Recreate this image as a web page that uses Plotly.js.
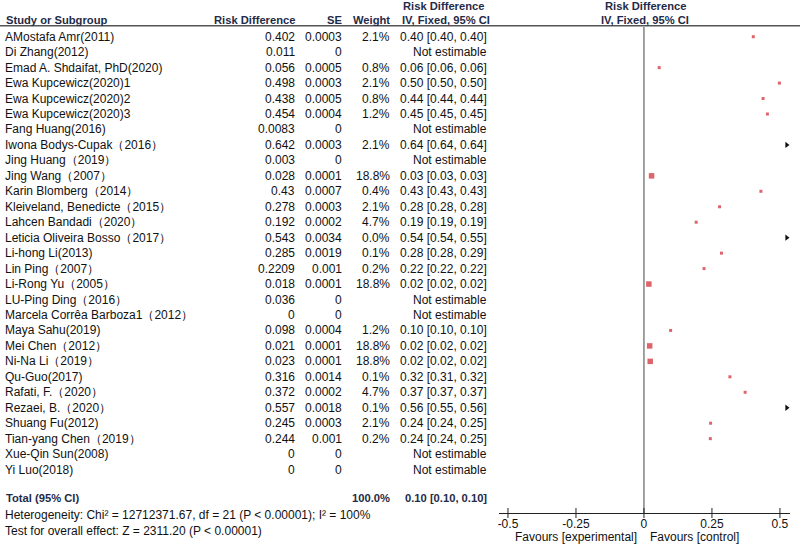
<!DOCTYPE html>
<html>
<head>
<meta charset="utf-8">
<script src="https://cdn.plot.ly/plotly-3.0.1.min.js"></script>
<style>html,body{margin:0;padding:0;background:#fff;}#chart{width:800px;height:545px;}</style>
</head>
<body>
<div id="chart"></div>
<script>
// ---- data ----
const studies = ["AMostafa Amr(2011)","Di Zhang(2012)","Emad A. Shdaifat, PhD(2020)","Ewa Kupcewicz(2020)1","Ewa Kupcewicz(2020)2","Ewa Kupcewicz(2020)3","Fang Huang(2016)","Iwona Bodys-Cupak\uff082016\uff09","Jing Huang\uff082019\uff09","Jing Wang\uff082007\uff09","Karin Blomberg\uff082014\uff09","Kleiveland, Benedicte\uff082015\uff09","Lahcen Bandadi\uff082020\uff09","Leticia Oliveira Bosso\uff082017\uff09","Li-hong Li(2013)","Lin Ping\uff082007\uff09","Li-Rong Yu\uff082005\uff09","LU-Ping Ding\uff082016\uff09","Marcela Corr\u00eaa Barboza1\uff082012\uff09","Maya Sahu(2019)","Mei Chen\uff082012\uff09","Ni-Na Li\uff082019\uff09","Qu-Guo(2017)","Rafati, F.\uff082020\uff09","Rezaei, B.\uff082020\uff09","Shuang Fu(2012)","Tian-yang Chen\uff082019\uff09","Xue-Qin Sun(2008)","Yi Luo(2018)"];
const riskDiff = [0.402,0.011,0.056,0.498,0.438,0.454,0.0083,0.642,0.003,0.028,0.43,0.278,0.192,0.543,0.285,0.2209,0.018,0.036,0,0.098,0.021,0.023,0.316,0.372,0.557,0.245,0.244,0,0];
const seVals = [0.0003,0,0.0005,0.0003,0.0005,0.0004,0,0.0003,0,0.0001,0.0007,0.0003,0.0002,0.0034,0.0019,0.001,0.0001,0,0,0.0004,0.0001,0.0001,0.0014,0.0002,0.0018,0.0003,0.001,0,0];
const weights = [2.1,null,0.8,2.1,0.8,1.2,null,2.1,null,18.8,0.4,2.1,4.7,0.0,0.1,0.2,18.8,null,null,1.2,18.8,18.8,0.1,4.7,0.1,2.1,0.2,null,null];
const totalWeight = "100.0%";
const totalEffect = 0.10, totalLower = 0.10, totalUpper = 0.10;
const heterogeneityText = "Heterogeneity: Chi\u00b2 = 12712371.67, df = 21 (P < 0.00001); I\u00b2 = 100%";
const overallText = "Test for overall effect: Z = 2311.20 (P < 0.00001)";
const tickValues = [-0.5,-0.25,0,0.25,0.5];
const tickLabels = ["-0.5","-0.25","0","0.25","0.5"];
const favoursLeft = "Favours [experimental]";
const favoursRight = "Favours [control]";

// ---- layout constants ----
const W = 800, H = 545;
const FONT = "Liberation Sans, Arial, sans-serif";
const HEAD = "#1f2b48";
const RED = "#d0222a";
const rowTop = 36.7, rowStep = 15.46;
const yTopVal = -rowTop/rowStep, yBotVal = (H-rowTop)/rowStep;
const xRange = [-0.533, 0.537];
const axisPx = 513;
const axisPos = 1 - axisPx/H;
const px = p => p / W;
const py = p => 1 - p / H;

const colName = 3, colRD = 297, colSE = 344, colW = 392, colCI = 489;

const ann = [];
function txt(x, y, text, anchor, opts) {
  opts = opts || {};
  ann.push({xref: opts.xref || 'paper', yref: opts.yref || 'y', x: x, y: y, text: text, showarrow: false,
    xanchor: anchor, yanchor: 'middle', xshift: opts.xshift || 0,
    font: {family: FONT, size: opts.size || 12, color: opts.color || '#111'}});
}
// headers
const hb = (s) => '<b>' + s + '</b>';
const hy1 = py(5.5), hy2 = py(20.5);
const HS = 11.2;
function htxt(x, y, text, anchor) {
  ann.push({xref: 'paper', yref: 'paper', x: x, y: y, text: hb(text), showarrow: false, xanchor: anchor, yanchor: 'middle',
    font: {family: FONT, size: HS, color: HEAD}});
}
htxt(px(4), hy2, "Study or Subgroup", 'left');
htxt(px(colRD), hy2, "Risk Difference", 'right');
htxt(px(colSE), hy2, "SE", 'right');
htxt(px(colW), hy2, "Weight", 'right');
htxt(px(443), hy1, "Risk Difference", 'center');
htxt(px(446), hy2, "IV, Fixed, 95% CI", 'center');
htxt(px(645), hy1, "Risk Difference", 'center');
htxt(px(645), hy2, "IV, Fixed, 95% CI", 'center');

// rows
const mx = [], my = [], ms = [], ax = [], ay = [];
studies.forEach((s, i) => {
  txt(px(colName), i, s, 'left');
  txt(px(colRD), i, String(riskDiff[i]), 'right');
  txt(px(colSE), i, String(seVals[i]), 'right');
  if (weights[i] === null) {
    txt(px(colCI), i, "Not estimable", 'right');
  } else {
    txt(px(colW), i, weights[i].toFixed(1) + '%', 'right');
    const lo = riskDiff[i] - 1.96*seVals[i], hi = riskDiff[i] + 1.96*seVals[i];
    txt(px(colCI), i, riskDiff[i].toFixed(2) + ' [' + lo.toFixed(2) + ', ' + hi.toFixed(2) + ']', 'right');
    if (riskDiff[i] > tickValues[tickValues.length-1]) {
      ax.push(xRange[1] - 0.012); ay.push(i);
    } else {
      mx.push(riskDiff[i]); my.push(i);
      ms.push(Math.max(3, 5.5*Math.sqrt(weights[i]/18.8)));
    }
  }
});
const totalRow = 29.82, hetRow = 30.95, testRow = 31.98;
ann.push({xref:'paper', yref:'y', x: px(4), y: totalRow, text: hb("Total (95% CI)"), showarrow:false, xanchor:'left', yanchor:'middle', font:{family:FONT,size:HS,color:HEAD}});
ann.push({xref:'paper', yref:'y', x: px(colW), y: totalRow, text: hb(totalWeight), showarrow:false, xanchor:'right', yanchor:'middle', font:{family:FONT,size:HS,color:HEAD}});
ann.push({xref:'paper', yref:'y', x: px(colCI), y: totalRow, text: hb(totalEffect.toFixed(2)+' ['+totalLower.toFixed(2)+', '+totalUpper.toFixed(2)+']'), showarrow:false, xanchor:'right', yanchor:'middle', font:{family:FONT,size:HS,color:HEAD}});
txt(px(colName), hetRow, heterogeneityText, 'left');
txt(px(colName), testRow, overallText, 'left');

// favours labels
ann.push({xref:'x', yref:'paper', x: 0, y: py(537), text: favoursLeft, showarrow:false, xanchor:'right', yanchor:'middle', xshift:-5, font:{family:FONT,size:12,color:'#111'}});
ann.push({xref:'x', yref:'paper', x: 0, y: py(537), text: favoursRight, showarrow:false, xanchor:'left', yanchor:'middle', xshift:4, font:{family:FONT,size:12,color:'#111'}});

// shapes
const shapes = [
  {type:'line', xref:'paper', yref:'paper', x0:0, x1:1, y0:py(25.7), y1:py(25.7), line:{color:'#555', width:1.5}},
  {type:'line', xref:'x', yref:'paper', x0:0, x1:0, y0:axisPos, y1:py(27), line:{color:'#444', width:1}}
];
tickValues.forEach(v => {
  shapes.push({type:'line', xref:'x', yref:'paper', x0:v, x1:v, y0:py(axisPx+5), y1:py(axisPx-5), line:{color:'#222', width:1}});
});

const traces = [
  {type:'scatter', mode:'markers', x: mx, y: my, marker:{symbol:'square', size: ms, color: RED, line:{width:0}}, hoverinfo:'skip', cliponaxis:false},
  {type:'scatter', mode:'markers', x: ax, y: ay, marker:{symbol:'triangle-right', size: 5.5, color: '#111', line:{width:0}}, hoverinfo:'skip', cliponaxis:false}
];

const layout = {
  width: W, height: H, margin:{l:0,r:0,t:0,b:0}, paper_bgcolor:'#fff', plot_bgcolor:'rgba(0,0,0,0)',
  showlegend:false,
  xaxis:{domain:[499/W, 790/W], range: xRange, anchor:'free', position: axisPos, showline:true, linecolor:'#222', linewidth:1,
    ticks:'', tickvals: tickValues, ticktext: tickLabels, tickfont:{family:FONT, size:12, color:'#111'},
    showgrid:false, zeroline:false, fixedrange:true},
  yaxis:{domain:[0,1], range:[yBotVal, yTopVal], visible:false, showgrid:false, zeroline:false, fixedrange:true},
  annotations: ann, shapes: shapes
};
Plotly.newPlot('chart', traces, layout, {staticPlot:true, displayModeBar:false});
</script>
</body>
</html>
